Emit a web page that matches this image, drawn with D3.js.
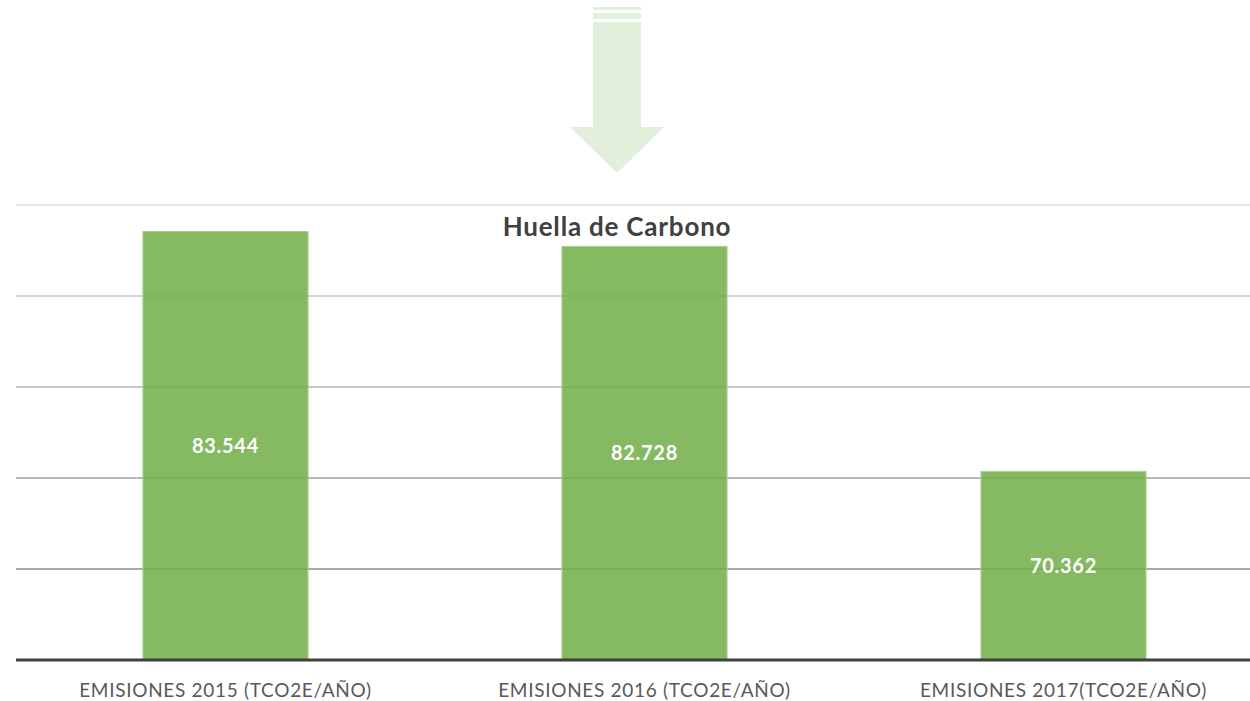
<!DOCTYPE html>
<html>
<head>
<meta charset="utf-8">
<script src="https://cdn.jsdelivr.net/npm/d3@7"></script>
<style>
  html, body { margin: 0; padding: 0; background: #ffffff; }
  svg { display: block; }
</style>
</head>
<body>
<svg id="chart" width="1250" height="701"></svg>
<script>
const title = "Huella de Carbono";
const categories = [
  "EMISIONES 2015 (TCO2E/AÑO)",
  "EMISIONES 2016 (TCO2E/AÑO)",
  "EMISIONES 2017(TCO2E/AÑO)"
];
const values = [83.544, 82.728, 70.362];
const valueLabels = ["83.544", "82.728", "70.362"];
const yTicks = [60, 65, 70, 75, 80, 85];

const svg = d3.select("#chart");
const W = 1250, H = 701;

// decorative arrow
const arrowColor = "#e2efda";
svg.append("rect").attr("x", 593).attr("y", 7).attr("width", 48).attr("height", 3).attr("fill", arrowColor);
svg.append("rect").attr("x", 593).attr("y", 13).attr("width", 48).attr("height", 6).attr("fill", arrowColor);
svg.append("path")
  .attr("d", "M593,22 L641,22 L641,127 L664,127 L617,173 L570,127 L593,127 Z")
  .attr("fill", arrowColor);

const x = d3.scaleBand()
  .domain(categories)
  .range([16, 1273])
  .paddingInner(0.606)
  .paddingOuter(0.303);

const y = d3.scaleLinear().domain([60, 85]).range([660, 205]);

const gridColors = d3.scaleLinear().domain([65, 85]).range(["#a9a9a9", "#e5e5e5"]);

// gridlines
svg.append("g").selectAll("line")
  .data(yTicks.filter(t => t > 60))
  .join("line")
  .attr("x1", 16).attr("x2", W)
  .attr("y1", d => y(d)).attr("y2", d => y(d))
  .attr("stroke", d => gridColors(d))
  .attr("stroke-width", 2);

// bars
svg.append("g").selectAll("rect")
  .data(values)
  .join("rect")
  .attr("x", (d, i) => x(categories[i]))
  .attr("width", x.bandwidth())
  .attr("y", d => y(d))
  .attr("height", d => y(60) - y(d))
  .attr("fill", "#70ad47")
  .attr("fill-opacity", 0.85)
  .attr("stroke", "#a9d08e")
  .attr("stroke-width", 1);

// baseline
svg.append("line")
  .attr("x1", 16).attr("x2", W)
  .attr("y1", y(60)).attr("y2", y(60))
  .attr("stroke", "#404040").attr("stroke-width", 3);

// value labels
svg.append("g").selectAll("text")
  .data(values)
  .join("text")
  .attr("x", (d, i) => x(categories[i]) + x.bandwidth() / 2)
  .attr("y", d => (y(d) + y(60)) / 2)
  .attr("dy", "0.35em")
  .attr("text-anchor", "middle")
  .attr("fill", "#ffffff")
  .attr("font-family", "Lato, 'Open Sans', sans-serif")
  .attr("font-weight", "bold")
  .attr("font-size", 20)
  .attr("letter-spacing", 0.7)
  .text((d, i) => valueLabels[i]);

// category axis
const xAxis = d3.axisBottom(x).tickSize(0).tickPadding(0);
const gx = svg.append("g").attr("transform", `translate(0,${y(60)})`).call(xAxis);
gx.select(".domain").remove();
gx.selectAll("text")
  .attr("y", 30)
  .attr("dy", "0.35em")
  .attr("fill", "#595959")
  .attr("font-family", "Lato, 'Open Sans', sans-serif")
  .attr("font-size", 19)
  .attr("letter-spacing", 0.7);

// title
svg.append("text")
  .attr("x", 617).attr("y", 227)
  .attr("dy", "0.35em")
  .attr("text-anchor", "middle")
  .attr("fill", "#404040")
  .attr("font-family", "Lato, 'Open Sans', sans-serif")
  .attr("font-weight", "bold")
  .attr("font-size", 26)
  .attr("letter-spacing", 0.8)
  .text(title);
</script>
</body>
</html>
